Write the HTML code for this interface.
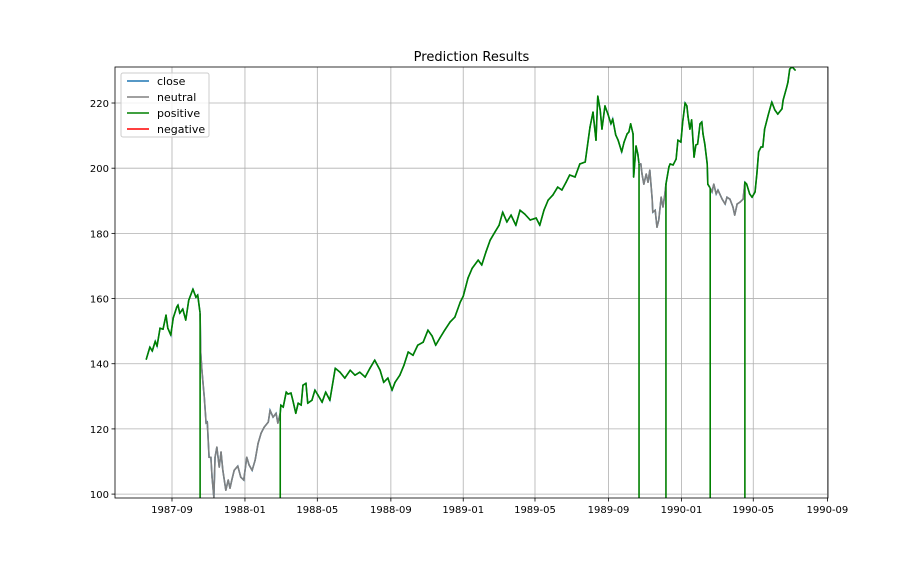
<!DOCTYPE html>
<html><head><meta charset="utf-8"><style>
body{margin:0;background:#fff;}
svg text{font-family:"DejaVu Sans","Liberation Sans",sans-serif;}
</style></head><body>
<svg id="chart" width="920" height="560" xmlns="http://www.w3.org/2000/svg">
<rect width="920" height="560" fill="#fff"/>
<text x="471.5" y="61" text-anchor="middle" font-size="13">Prediction Results</text>
<g id="grid"></g><g id="series"></g><g id="axes"></g>
<g>
<rect x="121" y="73" width="88" height="64" fill="#fff" fill-opacity="0.8" stroke="#ccc" rx="2"/>
<g><line x1="127" y1="81" x2="149" y2="81" stroke="#1f77b4" stroke-width="1.5"/><text x="157" y="85" font-size="11">close</text></g>
<g><line x1="127" y1="97" x2="149" y2="97" stroke="#808080" stroke-width="1.5"/><text x="157" y="101" font-size="11">neutral</text></g>
<g><line x1="127" y1="113" x2="149" y2="113" stroke="#008000" stroke-width="1.5"/><text x="157" y="117" font-size="11">positive</text></g>
<g><line x1="127" y1="129" x2="149" y2="129" stroke="#ff0000" stroke-width="1.5"/><text x="157" y="133" font-size="11">negative</text></g>
</g>
</svg>
<script>
// days since 1987-09-01
const days=[-43,-37,-33,-28,-25,-20,-15,-10,-7,-2,2,8,10,13,18,23,28,35,40,43,47,48,50,54,57,59,62,65,67,70,72,75,79,82,85,90,94,97,100,104,110,115,120,125,129,134,139,144,149,154,161,164,169,174,177,181,182,186,191,194,199,202,207,211,216,219,224,227,234,239,244,251,257,264,273,281,289,298,306,314,323,331,339,348,354,361,368,373,381,388,395,403,411,420,428,435,441,448,456,465,473,482,487,495,502,512,518,525,532,540,547,553,560,567,575,582,590,599,609,615,622,629,637,645,652,659,665,674,682,691,699,704,709,712,716,719,724,729,734,737,742,746,752,756,761,764,767,771,772,776,779,781,784,786,789,793,796,799,803,804,808,811,814,818,821,824,826,831,833,838,843,846,851,854,858,861,863,866,869,873,876,879,883,886,888,891,895,896,900,903,906,910,913,920,925,928,933,938,941,945,950,955,958,961,966,970,975,978,981,985,988,991,997,1003,1008,1013,1020,1022,1028,1030,1033,1037,1042];
const closeVals=[141.4,145.1,143.9,146.9,145.4,150.9,150.6,154.9,150.9,148.8,154.0,157.4,158.0,155.5,156.8,153.4,159.5,162.9,160.4,161.1,155.5,143.6,138.0,129.7,121.8,122.1,111.3,111.3,105.2,99.0,111.3,114.4,108.3,112.9,107.3,101.2,104.3,101.8,104.3,107.3,108.6,105.2,104.3,111.3,108.9,107.3,110.4,115.6,118.7,120.5,122.1,125.7,123.6,124.8,121.8,124.8,127.3,126.7,131.3,130.7,131.0,128.8,124.8,127.9,127.3,133.4,134.0,127.9,128.8,131.9,130.4,128.2,131.3,128.8,138.6,137.4,135.6,138.0,136.5,137.4,135.9,138.6,141.1,138.0,134.3,135.6,131.9,134.3,136.5,139.6,143.6,142.6,145.7,146.6,150.3,148.5,145.7,147.9,150.3,152.8,154.3,158.9,160.7,166.3,169.3,171.8,170.3,174.3,177.9,180.4,182.5,186.5,183.5,185.6,182.5,187.1,185.9,184.1,184.7,182.5,187.1,190.2,191.8,194.2,193.3,195.7,197.9,197.3,201.3,201.9,212.6,217.2,208.6,222.1,217.9,212.0,219.1,216.6,213.6,215.1,210.2,208.6,205.0,208.0,210.5,211.1,213.6,210.5,197.3,206.8,204.3,201.3,201.3,198.2,195.1,198.2,195.7,199.4,190.5,186.5,187.1,181.9,184.1,191.1,188.1,191.8,195.1,200.4,201.3,201.0,202.8,208.6,208.0,214.2,220.0,219.1,215.7,212.0,214.8,203.4,207.1,207.4,213.6,214.2,210.5,207.4,201.3,195.1,193.9,192.7,195.1,192.1,193.3,190.5,189.0,191.1,190.5,188.1,185.6,189.0,189.6,190.5,195.7,195.1,192.1,191.1,192.7,198.2,205.0,206.5,206.5,212.0,216.3,220.3,217.9,216.6,218.2,220.9,224.9,226.4,230.4,231.1,230.1];
const neutralStart=[47,781,900];
const neutralEnd=[181,826,958];
const dropDays=[47,181,781,826,900,958];
const yTicks=[100,120,140,160,180,200,220];
const xTickDays=[0,122,243,366,487,607,730,852,972,1096];
const xTickLabels=["1987-09","1988-01","1988-05","1988-09","1989-01","1989-05","1989-09","1990-01","1990-05","1990-09"];

const NS="http://www.w3.org/2000/svg";
const L=115,R=828,T=67,B=498;
const yMin=98.8,yMax=231.05;
const xS=d=>172+d*0.598;
const yS=v=>B-(v-yMin)/(yMax-yMin)*(B-T);
function mk(tag,attrs,parent){const e=document.createElementNS(NS,tag);for(const k in attrs)e.setAttribute(k,attrs[k]);parent.appendChild(e);return e;}
const grid=document.getElementById('grid'),ser=document.getElementById('series'),ax=document.getElementById('axes');
yTicks.forEach(v=>{
  const g=mk('line',{x1:L,x2:R,y1:yS(v),y2:yS(v),stroke:'#b0b0b0','stroke-width':0.8},grid);
  
  
  mk('line',{x1:L-3.5,x2:L,y1:yS(v),y2:yS(v),stroke:'#000','stroke-width':0.8},ax);
  const t=mk('text',{x:L-6,y:yS(v)+4,'text-anchor':'end','font-size':'10'},ax);t.textContent=v;
  
  
});
xTickDays.forEach((d,i)=>{
  const g=mk('line',{x1:xS(d),x2:xS(d),y1:T,y2:B,stroke:'#b0b0b0','stroke-width':0.8},grid);
  
  
  mk('line',{x1:xS(d),x2:xS(d),y1:B,y2:B+3.5,stroke:'#000','stroke-width':0.8},ax);
  const t=mk('text',{x:xS(d),y:B+15,'text-anchor':'middle','font-size':'10'},ax);t.textContent=xTickLabels[i];
  
  
});
const frame=mk('rect',{x:L,y:T,width:R-L,height:B-T,fill:'none',stroke:'#000','stroke-width':0.8},ax);


mk('clipPath',{id:'clip'},ser).appendChild(document.createElementNS(NS,'rect'));
const cr=ser.querySelector('#clip rect');cr.setAttribute('x',L);cr.setAttribute('y',T);cr.setAttribute('width',R-L);cr.setAttribute('height',B-T);
const g=mk('g',{'clip-path':'url(#clip)'},ser);
const closeLine=mk('polyline',{points:days.map((d,i)=>xS(d)+','+yS(closeVals[i])).join(' '),fill:'none',stroke:'#1f77b4','stroke-width':1.5},g);


const isN=d=>neutralStart.some((s,i)=>d>=s&&d<=neutralEnd[i]);
for(let i=0;i<days.length-1;i++){
  const n=isN(days[i])&&isN(days[i+1]);
  const s=mk('line',{x1:xS(days[i]),y1:yS(closeVals[i]),x2:xS(days[i+1]),y2:yS(closeVals[i+1]),stroke:n?'#7f8080':'#008000','stroke-width':1.6,'stroke-linecap':'round'},g);
  
  
}
dropDays.forEach(d=>{
  const i=days.indexOf(d);
  const s=mk('line',{x1:xS(d),y1:yS(closeVals[i]),x2:xS(d),y2:B+5,stroke:'#008000','stroke-width':1.6},g);
  
  
});
</script>
</body></html>
